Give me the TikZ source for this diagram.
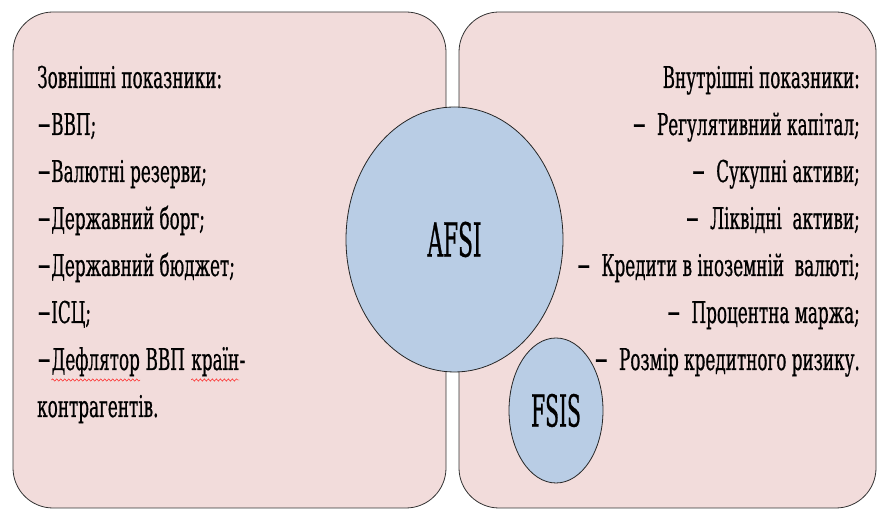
\documentclass[tikz,border=0pt]{standalone}
\usepackage{fontspec}
\setmainfont{DejaVu Serif}
\newfontfamily\narrowfont[FakeStretch=0.56, FakeBold=0.6]{DejaVu Serif}
\newfontfamily\tagfont[FakeStretch=0.46, FakeBold=0.6]{DejaVu Serif}
\usetikzlibrary{shapes.geometric, positioning, decorations.pathmorphing}
\definecolor{boxpink}{RGB}{242,220,219}
\definecolor{ballblue}{RGB}{185,205,229}
\tikzset{
    panel/.style={rectangle, draw=black!80, thick, rounded corners=40pt, fill=boxpink, minimum height=496pt, inner sep=0pt},
    ball/.style={ellipse, draw=black!85, thick, fill=ballblue, inner sep=0pt},
    item/.style={inner sep=0pt, font=\narrowfont\fontsize{30}{47}\selectfont},
    wavy/.style={red, thin, decorate, decoration={snake, amplitude=1.2pt, segment length=4pt}}
}

\begin{document}
\begin{tikzpicture}[x=1pt, y=1pt]
    \useasboundingbox (0,0) rectangle (877,510);

    % Two panels
    \node (outer) [panel, minimum width=433pt] at (229.5,250) {};
    \node (inner) [panel, minimum width=417pt] at (667.5,250) {};

    % Indices
    \node (afsi) [ball, minimum width=217pt, minimum height=265pt, font=\tagfont\fontsize{47}{47}\selectfont] at (454.5,270.5) {AFSI};
    \node (fsis) [ball, minimum width=94pt, minimum height=145pt, font=\tagfont\fontsize{44}{44}\selectfont] at (556,99.5) {FSIS};

    % External indicators
    \foreach \txt [count=\i] in {Зовнішні показники:, −ВВП;, −Валютні резерви;, −Державний борг;, −Державний бюджет;, −ІСЦ;}
        \node (ext\i) [item, anchor=base west] at (37,422-47*\i+47) {\txt};
    \node (dash7) [item, anchor=base west] at (37,140) {−};
    \node (defl) [item, anchor=base west] at (dash7.base east) {Дефлятор};
    \node (gdp7) [item, anchor=base west] at (defl.base east) {\ ВВП};
    \node (krain) [item, anchor=base west] at ([xshift=6pt]gdp7.base east) {країн};
    \node (hyph) [item, anchor=base west] at (krain.base east) {-};
    \node (ext8) [item, anchor=base west] at (37,93) {контрагентів.};
    \draw [wavy] ([yshift=-10pt]defl.base west) -- ([yshift=-10pt]defl.base east);
    \draw [wavy] ([yshift=-10pt]krain.base west) -- ([yshift=-10pt]krain.base east);

    % Internal indicators
    \foreach \txt [count=\i] in {Внутрішні показники:, −\ \ Регулятивний капітал;, −\ \ Сукупні активи;, −\ \ Ліквідні\ \ активи;, −\ \ Кредити в іноземній\ \ валюті;, −\ \ Процентна маржа;, −\ \ Розмір кредитного ризику.}
        \node (int\i) [item, anchor=base east] at (860,422-47*\i+47) {\txt};

\end{tikzpicture}
\end{document}
